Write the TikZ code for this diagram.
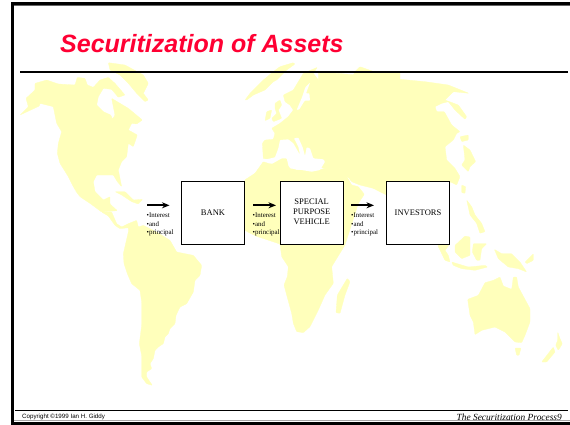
\documentclass[tikz,border=0pt]{standalone}
\usepackage{fontspec}
\setmainfont{Liberation Serif}
\newfontfamily\arialfont{Liberation Sans}
\usetikzlibrary{arrows.meta}
\definecolor{mapyellow}{HTML}{FFFFBB}
\definecolor{titlered}{HTML}{FF0033}
\tikzset{
  zoomat/.style 2 args={shift={(#1,#2)},x=0.33333pt,y=-0.33333pt},
  landfill/.style={fill=mapyellow,draw=mapyellow,line width=0.3pt,line join=round,rounded corners=0.7pt},
  seafill/.style={fill=white,draw=none,rounded corners=0.7pt},
  flowbox/.style={draw=black,line width=0.9pt,fill=white,minimum width=62.6pt,minimum height=63.2pt,inner sep=0pt,align=center,
     font=\fontsize{8.5}{10}\selectfont},
  flowlabel/.style={anchor=north west,inner sep=0pt,align=left,font=\fontsize{6.9}{8.5}\selectfont},
  flowarrow/.style={line width=1.9pt,-{Stealth[length=7.5pt,width=6pt]}},
}
\begin{document}
\begin{tikzpicture}[x=1pt,y=-1pt]
\useasboundingbox (0,0) rectangle (570,424);
% ---- map ----
\begin{scope}[zoomat={0}{0}]
 % North America
 \path[landfill] (60,345)--(85,320)--(78,295)--(105,270)--(105,250)--(140,240)--(175,252)--(225,255)--(232,232)--(255,235)--(262,255)--(280,262)--(300,240)--(325,232)--(345,250)--(375,285)--(355,292)--(335,268)--(310,265)--(295,290)--(290,315)--(310,335)--(332,345)--(345,372)--(330,370)--(345,345)--(335,295)--(360,310)--(385,325)--(415,350)--(427,360)--(410,372)--(395,370)--(385,390)--(412,405)--(400,440)--(385,430)--(380,470)--(365,485)--(355,510)--(365,560)--(352,545)--(340,525)--(290,525)--(280,545)--(285,575)--(310,600)--(330,590)--(330,612)--(352,632)--(305,636)--(270,610)--(240,590)--(225,570)--(205,530)--(180,490)--(172,460)--(175,430)--(185,395)--(170,370)--(160,320)--(120,310)--(118,318)--cycle;
 \path[landfill] (345,575)--(375,575)--(400,600)--(428,598)--(415,612)--(395,605)--(365,585)--cycle;
 % Greenland
 \path[landfill] (325,188)--(375,195)--(430,225)--(445,250)--(430,280)--(445,300)--(435,305)--(410,280)--(385,250)--(360,225)--(330,210)--cycle;
 \path[seafill] (195,522)--(225,572)--(228,575)--(205,540)--cycle;
\end{scope}
\begin{scope}[zoomat={0}{212}]
 % Central and South America
 \path[landfill] (305,0)--(335,0)--(350,35)--(365,45)--(385,35)--(410,25)--(415,45)--(430,40)--(470,60)--(510,85)--(530,120)--(580,130)--(605,160)--(600,190)--(585,205)--(580,240)--(560,275)--(540,285)--(528,310)--(525,335)--(510,350)--(505,365)--(495,375)--(490,395)--(475,405)--(465,415)--(460,440)--(450,455)--(455,470)--(440,480)--(440,495)--(457,520)--(440,515)--(425,495)--(425,430)--(418,395)--(425,340)--(425,270)--(420,235)--(395,215)--(382,185)--(372,155)--(370,125)--(385,60)--(385,47)--(360,50)--(345,40)--(325,12)--cycle;
\end{scope}
\begin{scope}[zoomat={230}{60}]
 % Europe and western Asia
 \path[landfill] (97,250)--(105,240)--(130,238)--(135,220)--(125,205)--(150,190)--(175,170)--(190,150)--(180,135)--(165,125)--(160,105)--(190,90)--(205,65)--(220,40)--(262,22)--(250,40)--(265,60)--(285,100)--(295,95)--(310,72)--(345,68)--(350,50)--(360,65)--(375,35)--(390,20)--(440,38)--(510,38)--(510,385)--(430,385)--(390,375)--(365,365)--(350,345)--(336,325)--(300,330)--(200,300)--(100,296)--cycle;
 % Africa, northern part
 \path[landfill] (45,390)--(50,365)--(75,340)--(100,305)--(120,312)--(155,295)--(170,295)--(175,320)--(210,335)--(245,335)--(285,325)--(336,325)--(345,340)--(350,390)--cycle;
 % long northern island
 \path[landfill] (45,120)--(60,100)--(100,60)--(130,35)--(150,20)--(190,8)--(195,12)--(170,30)--(140,60)--(130,65)--(105,90)--(70,105)--(50,120)--cycle;
\end{scope}
\begin{scope}[zoomat={230}{170}]
 % Africa, southern part
 \path[landfill] (44,30)--(75,10)--(100,0)--(340,0)--(345,10)--(365,45)--(385,50)--(403,73)--(385,100)--(345,225)--(305,290)--(310,340)--(285,375)--(265,420)--(240,470)--(220,488)--(200,485)--(190,460)--(185,430)--(170,375)--(162,345)--(172,320)--(175,290)--(155,260)--(150,222)--(80,199)--(55,187)--(44,180)--cycle;
 % Madagascar
 \path[landfill] (352,325)--(360,335)--(345,375)--(330,430)--(318,428)--(322,375)--cycle;
\end{scope}
\begin{scope}[zoomat={285}{60}]
 % Asia
 \path[landfill] (100,38)--(160,40)--(420,65)--(490,75)--(552,100)--(505,95)--(480,120)--(520,135)--(545,170)--(540,178)--(510,150)--(490,125)--(470,130)--(450,140)--(455,155)--(478,155)--(500,195)--(525,215)--(515,220)--(505,240)--(480,260)--(485,300)--(510,325)--(525,350)--(515,375)--(495,365)--(490,500)--(400,450)--(304,405)--(265,385)--(240,365)--(210,360)--(185,350)--(170,325)--(100,310)--cycle;
 % Japan, Taiwan, Philippines
 \path[landfill] (525,230)--(550,225)--(550,240)--(530,245)--cycle;
 \path[landfill] (535,255)--(555,270)--(572,305)--(555,320)--(550,335)--(530,315)--(540,300)--cycle;
 \path[landfill] (530,375)--(542,380)--(540,400)--(530,398)--cycle;
 \path[landfill] (545,420)--(560,440)--(570,465)--(590,490)--(600,515)--(585,520)--(575,490)--(555,465)--cycle;
\end{scope}
% seas
\begin{scope}[zoomat={230}{60}]
 % Mediterranean
 \path[seafill] (105,299)--(135,292)--(145,265)--(150,240)--(175,238)--(190,250)--(210,285)--(205,260)--(192,235)--(205,233)--(218,262)--(225,288)--(230,262)--(240,265)--(250,295)--(280,298)--(285,305)--(270,330)--(245,335)--(215,330)--(180,325)--(170,295)--(155,295)--(125,312)--cycle;
 % Baltic
 \path[seafill] (240,68)--(226,82)--(216,112)--(200,150)--(208,148)--(224,122)--(240,122)--(238,100)--(228,100)--cycle;
 % Britain and Ireland
 \path[landfill] (135,130)--(150,120)--(155,135)--(145,150)--(155,175)--(130,185)--(125,175)--(140,160)--(135,145)--cycle;
 \path[landfill] (110,155)--(125,150)--(120,175)--(105,182)--cycle;
\end{scope}
\begin{scope}[zoomat={285}{212}]
 % South-East Asia
 \path[landfill] (458,100)--(495,95)--(480,115)--(490,130)--(495,150)--(480,145)--cycle;
 \path[landfill] (510,100)--(540,72)--(555,75)--(555,130)--(530,140)--(510,120)--cycle;
 \path[landfill] (565,95)--(605,95)--(590,110)--(585,145)--(575,145)--(562,120)--cycle;
 \path[landfill] (500,150)--(550,165)--(600,160)--(608,165)--(570,175)--(530,170)--(505,160)--cycle;
 \path[landfill] (628,112)--(650,125)--(680,125)--(705,150)--(725,180)--(700,170)--(670,165)--(640,140)--cycle;
 \path[landfill] (720,150)--(745,125)--(745,145)--(725,155)--cycle;
 % Australia
 \path[landfill] (548,262)--(580,250)--(600,212)--(625,205)--(645,195)--(655,222)--(680,232)--(685,195)--(695,195)--(700,225)--(735,290)--(735,330)--(720,370)--(710,392)--(690,390)--(660,360)--(630,345)--(590,355)--(570,368)--(565,330)--(555,310)--cycle;
 \path[landfill] (690,408)--(708,408)--(702,430)--(695,430)--cycle;
 % New Zealand
 \path[landfill] (770,450)--(805,405)--(810,420)--(785,450)--cycle;
 \path[landfill] (818,360)--(825,380)--(832,395)--(820,415)--(812,400)--(818,385)--cycle;
\end{scope}
% ---- frame and rules ----
\draw[black!60,line width=1pt] (13.5,5) -- (570,5);
\draw[black!35,line width=1pt] (14,420.5) -- (570,420.5);
\draw[black,line width=3pt] (570,3) -- (12,3) -- (12,423) -- (570,423);
\draw[black,line width=2pt] (20,72) -- (568,72);
\draw[black,line width=1pt] (15,410) -- (568,410);
% ---- title and footers ----
\node[anchor=base west,inner sep=0pt,text=titlered,font={\arialfont\bfseries\itshape\fontsize{25}{29}\selectfont}] (title) at (60,52) {Securitization of Assets};
\node[anchor=base west,inner sep=0pt,font={\arialfont\fontsize{6.2}{7.5}\selectfont}] (copy) at (22,418) {Copyright ©1999 Ian H. Giddy};
\node[anchor=base east,inner sep=0pt,font={\itshape\fontsize{9.4}{10}\selectfont}] (foot) at (562,420.5) {The Securitization Process9};
% ---- flow ----
\node[flowbox] (bank) at (213,212.6) {\raisebox{-1pt}{BANK}};
\node[flowbox] (spv) at (311.7,212.6) {\raisebox{-1pt}{\begin{tabular}{@{}c@{}}SPECIAL\\PURPOSE\\VEHICLE\end{tabular}}};
\node[flowbox] (inv) at (418,212.6) {\raisebox{-1pt}{INVESTORS}};
\coordinate (a1) at (147.3,205.3);
\coordinate (a2) at (169.5,205.3);
\coordinate (b1) at (253.3,205.3);
\coordinate (b2) at (276,205.3);
\coordinate (c1) at (351,205.3);
\coordinate (c2) at (374,205.3);
\draw[flowarrow] (a1) -- (a2);
\draw[flowarrow] (b1) -- (b2);
\draw[flowarrow] (c1) -- (c2);
\node[flowlabel] (la) at (146.5,212.8) {•Interest\\•and\\•principal};
\node[flowlabel] (lb) at (252.5,212.8) {•Interest\\•and\\•principal};
\node[flowlabel] (lc) at (351,212.8) {•Interest\\•and\\•principal};
\end{tikzpicture}
\end{document}
